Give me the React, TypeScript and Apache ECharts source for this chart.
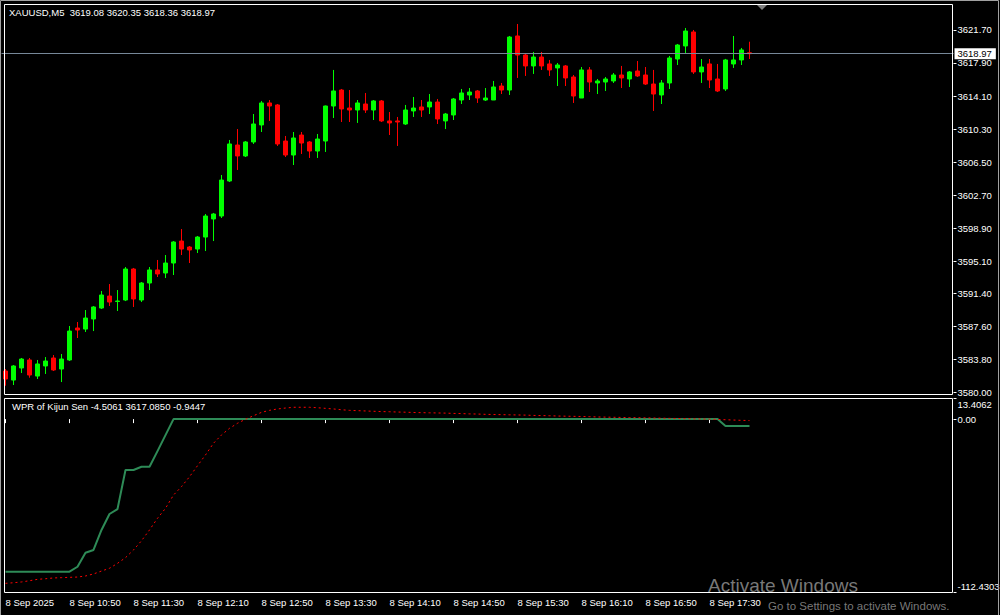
import React, { useEffect, useRef } from "react";
import * as echarts from "echarts";

const FONT = "'Liberation Sans', Arial, sans-serif";

const symbolTitle = "XAUUSD,M5  3619.08 3620.35 3618.36 3618.97";
const indicatorTitle = "WPR of Kijun Sen -4.5061 3617.0850 -0.9447";

// M5 bars, 8 Sep 2025 10:10 ... 17:55
const opens = [
  3582.45, 3581.41, 3582.8, 3583.72, 3581.87, 3583.03, 3583.95, 3582.68, 3583.72, 3587.4,
  3587.28, 3588.44, 3589.7, 3591.08, 3590.45, 3590.62, 3594.19, 3590.62, 3592.58, 3594.08,
  3593.73, 3594.88, 3597.41, 3596.72, 3596.49, 3597.87, 3599.95, 3600.29, 3604.32, 3608.46,
  3607.2, 3608.81, 3610.77, 3613.3, 3613.07, 3608.92, 3607.31, 3609.61, 3608.81, 3607.77,
  3608.92, 3612.95, 3614.79, 3612.72, 3612.49, 3613.18, 3612.49, 3613.53, 3611.23, 3611.23,
  3610.88, 3612.38, 3612.84, 3612.84, 3613.41, 3611.23, 3611.92, 3613.64, 3614.22, 3614.68,
  3613.64, 3613.64, 3615.25, 3614.79, 3621.01, 3618.82, 3617.56, 3618.59, 3617.79, 3617.33,
  3617.56, 3616.29, 3613.87, 3617.1, 3615.6, 3615.71, 3615.83, 3616.52, 3616.06, 3616.98,
  3616.52, 3615.48, 3614.22, 3615.6, 3618.36, 3619.86, 3621.47, 3616.87, 3617.79, 3616.06,
  3614.91, 3617.79, 3618.25, 3619.08,
];
const highs = [
  3582.68, 3583.14, 3583.95, 3583.95, 3583.72, 3584.06, 3584.29, 3584.41, 3587.63, 3588.09,
  3589.47, 3589.93, 3591.66, 3592.46, 3591.77, 3594.42, 3594.31, 3592.69, 3594.42, 3595.23,
  3595.8, 3597.41, 3598.79, 3596.84, 3597.99, 3600.52, 3600.64, 3605.01, 3609.04, 3610.3,
  3608.92, 3612.03, 3613.53, 3613.64, 3613.18, 3609.5, 3609.96, 3609.96, 3608.92, 3609.73,
  3613.0, 3617.1, 3614.91, 3614.79, 3613.64, 3614.45, 3613.64, 3613.64, 3612.26, 3611.69,
  3613.07, 3613.99, 3613.64, 3614.33, 3613.76, 3612.15, 3613.87, 3614.91, 3615.02, 3614.79,
  3615.02, 3615.83, 3615.6, 3621.01, 3622.39, 3618.94, 3619.17, 3619.17, 3618.25, 3617.9,
  3617.67, 3616.52, 3617.44, 3617.44, 3616.06, 3616.29, 3616.75, 3617.56, 3616.98, 3618.13,
  3617.44, 3617.1, 3615.94, 3618.71, 3620.09, 3621.93, 3621.7, 3618.36, 3618.36, 3617.79,
  3618.37, 3621.01, 3619.63, 3620.35,
];
const lows = [
  3580.76, 3580.84, 3582.22, 3581.68, 3581.53, 3582.11, 3582.45, 3581.18, 3583.6, 3586.25,
  3586.94, 3587.05, 3589.59, 3589.93, 3589.36, 3590.5, 3589.82, 3590.39, 3591.77, 3593.27,
  3593.15, 3593.5, 3595.8, 3594.88, 3596.03, 3596.26, 3597.41, 3600.06, 3604.2, 3605.59,
  3607.08, 3608.58, 3609.96, 3611.23, 3608.35, 3607.08, 3606.16, 3607.43, 3606.97, 3606.97,
  3607.66, 3611.57, 3611.11, 3611.11, 3611.0, 3612.15, 3611.34, 3611.11, 3609.61, 3608.35,
  3610.77, 3611.69, 3611.69, 3612.03, 3610.88, 3610.3, 3611.34, 3613.18, 3613.64, 3613.3,
  3613.53, 3613.64, 3614.33, 3614.22, 3616.18, 3616.41, 3616.64, 3617.1, 3616.41, 3615.25,
  3615.25, 3613.3, 3613.87, 3614.56, 3614.33, 3614.68, 3615.6, 3615.02, 3615.14, 3616.29,
  3615.37, 3612.38, 3613.18, 3614.91, 3617.67, 3619.05, 3616.64, 3615.6, 3615.02, 3614.56,
  3614.68, 3617.33, 3617.67, 3618.36,
];
const closes = [
  3581.53, 3583.03, 3583.83, 3581.99, 3583.26, 3583.6, 3582.57, 3583.83, 3587.05, 3587.17,
  3588.55, 3589.82, 3591.2, 3590.39, 3590.51, 3594.19, 3590.74, 3592.58, 3594.08, 3593.62,
  3594.88, 3597.3, 3596.49, 3596.38, 3597.87, 3600.29, 3600.52, 3604.43, 3608.58, 3607.2,
  3608.81, 3610.88, 3613.3, 3612.95, 3608.58, 3607.31, 3609.27, 3608.69, 3607.77, 3609.15,
  3612.95, 3614.68, 3612.61, 3612.49, 3613.3, 3612.49, 3613.53, 3611.23, 3611.0, 3611.11,
  3612.49, 3612.72, 3612.49, 3613.41, 3611.46, 3612.03, 3613.76, 3614.45, 3614.56, 3613.87,
  3613.87, 3615.14, 3614.79, 3620.89, 3618.82, 3617.56, 3618.59, 3617.56, 3617.1, 3617.67,
  3616.18, 3614.1, 3617.1, 3615.71, 3615.83, 3616.06, 3616.52, 3616.18, 3616.87, 3616.41,
  3615.48, 3614.33, 3615.6, 3618.48, 3619.97, 3621.58, 3616.87, 3617.44, 3615.94, 3614.68,
  3618.25, 3618.25, 3619.4, 3618.97,
];

// Indicator window: WPR of Kijun Sen (solid) and its signal (dotted)
const wprKijun = [
  -99.2, -99.2, -99.2, -99.2, -99.2, -99.2, -99.2, -99.2, -99.2, -96.0,
  -86.9, -85.1, -72.1, -61.7, -58.5, -33.1, -33.1, -31.0, -31.0, -20.8,
  -10.4, 0, 0, 0, 0, 0, 0, 0, 0, 0,
  0, 0, 0, 0, 0, 0, 0, 0, 0, 0,
  0, 0, 0, 0, 0, 0, 0, 0, 0, 0,
  0, 0, 0, 0, 0, 0, 0, 0, 0, 0,
  0, 0, 0, 0, 0, 0, 0, 0, 0, 0,
  0, 0, 0, 0, 0, 0, 0, 0, 0, 0,
  0, 0, 0, 0, 0, 0, 0, 0, 0, 0,
  -4.5061, -4.5061, -4.5061, -4.5061,
];
const wprSignal = [
  -106.8, -106.4, -105.9, -105.1, -104.2, -103.8, -103.3, -103.1, -102.9, -102.7,
  -102.0, -100.7, -98.8, -97.0, -93.8, -90.1, -85.1, -79.1, -72.1, -64.5,
  -58.0, -49.4, -43.9, -37.5, -30.3, -23.3, -15.7, -10.3, -6.0, -2.7,
  -0.1, 2.2, 4.4, 5.7, 6.6, 7.2, 7.7, 7.7, 7.7, 7.4,
  7.0, 6.6, 6.1, 5.7, 5.5, 5.3, 5.1, 4.9, 4.8, 4.6,
  4.5, 4.3, 4.2, 4.1, 4.0, 3.9, 3.7, 3.6, 3.4, 3.3,
  3.1, 3.0, 2.9, 2.8, 2.7, 2.6, 2.4, 2.3, 2.2, 2.0,
  1.9, 1.8, 1.7, 1.6, 1.4, 1.3, 1.2, 1.1, 1.0, 0.9,
  0.8, 0.7, 0.6, 0.5, 0.4, 0.3, 0.2, 0.1, 0.0, -0.2,
  -0.4, -0.6, -0.8, -0.94,
];

const priceTicks = [
  3580.0, 3583.8, 3587.6, 3591.4, 3595.1, 3598.9, 3602.7, 3606.5, 3610.3, 3614.1, 3617.9, 3621.7,
];
const wprTicks = [13.4062, 0, -112.4303];
const xTickLabels = [
  "8 Sep 2025", "8 Sep 10:50", "8 Sep 11:30", "8 Sep 12:10", "8 Sep 12:50", "8 Sep 13:30",
  "8 Sep 14:10", "8 Sep 14:50", "8 Sep 15:30", "8 Sep 16:10", "8 Sep 16:50", "8 Sep 17:30",
];
const BARS_PER_LABEL = 8;
const TOTAL_SLOTS = 119; // bars + empty chart-shift space

const PRICE_MIN = 3579.69;
const PRICE_MAX = 3624.69;
const WPR_MIN = -112.4303;
const WPR_MAX = 13.4062;

function buildOption() {
  const cats = Array.from({ length: TOTAL_SLOTS }, (_, i) => String(i));
  const candleData = opens.map((o, i) => [o, closes[i], lows[i], highs[i]]);
  const lastClose = closes[closes.length - 1];
  const showX = (idx: number) =>
    idx % BARS_PER_LABEL === 0 && idx / BARS_PER_LABEL < xTickLabels.length;

  const white = "#ffffff";
  const fs = 9.5;
  const wm = "rgba(160,160,160,0.75)";

  return {
    animation: false,
    backgroundColor: "#000000",
    textStyle: { fontFamily: FONT },
    grid: [
      { left: 1.5, top: 4, width: 952, height: 391, outerBoundsMode: "none" },
      { left: 1.5, top: 398.5, width: 952, height: 193.5, outerBoundsMode: "none" },
    ],
    xAxis: [
      { type: "category", gridIndex: 0, data: cats, boundaryGap: true, show: false },
      {
        type: "category",
        gridIndex: 1,
        data: cats,
        boundaryGap: true,
        axisLine: { show: false },
        splitLine: { show: false },
        axisTick: {
          show: true,
          alignWithLabel: true,
          interval: (idx: number) => showX(idx),
          length: 4,
          lineStyle: { color: white, width: 1 },
        },
        axisLabel: {
          interval: (idx: number) => showX(idx),
          formatter: (v: string) => {
            const i = Number(v);
            return showX(i) ? xTickLabels[i / BARS_PER_LABEL] : "";
          },
          color: white,
          fontSize: fs,
          fontFamily: FONT,
          align: "left",
          margin: 5,
        },
      },
    ],
    yAxis: [
      {
        type: "value",
        gridIndex: 0,
        position: "right",
        min: PRICE_MIN,
        max: PRICE_MAX,
        axisLine: { show: false },
        splitLine: { show: false },
        axisTick: {
          show: true,
          customValues: priceTicks,
          length: 3,
          lineStyle: { color: white },
        },
        axisLabel: {
          customValues: priceTicks,
          formatter: (v: number) => v.toFixed(2),
          color: white,
          fontSize: fs,
          fontFamily: FONT,
          margin: 4,
        },
      },
      {
        type: "value",
        gridIndex: 1,
        position: "right",
        min: WPR_MIN,
        max: WPR_MAX,
        axisLine: { show: false },
        splitLine: { show: false },
        axisTick: {
          show: true,
          customValues: wprTicks,
          length: 3,
          lineStyle: { color: white },
        },
        axisLabel: {
          customValues: wprTicks,
          formatter: (v: number) => {
            if (v > 10) return `{top|${v.toFixed(4)}}`;
            if (v < -100) return `{bot|${v.toFixed(4)}}`;
            return `{mid|${v.toFixed(2)}}`;
          },
          color: white,
          fontSize: fs,
          fontFamily: FONT,
          margin: 4,
          rich: {
            top: { color: white, fontSize: fs, fontFamily: FONT, padding: [11, 0, 0, 0] },
            mid: { color: white, fontSize: fs, fontFamily: FONT },
            bot: { color: white, fontSize: fs, fontFamily: FONT, padding: [0, 0, 11, 0] },
          },
        },
      },
    ],
    series: [
      {
        type: "candlestick",
        xAxisIndex: 0,
        yAxisIndex: 0,
        data: candleData,
        barWidth: 4,
        itemStyle: {
          color: "#00ff00",
          color0: "#ff0000",
          borderColor: "#00ff00",
          borderColor0: "#ff0000",
          borderWidth: 1,
        },
        markLine: {
          silent: true,
          symbol: ["none", "none"],
          lineStyle: { color: "#778899", width: 1, type: "solid" },
          label: {
            position: "end",
            distance: 1,
            formatter: () => lastClose.toFixed(2),
            color: "#000000",
            backgroundColor: "#ffffff",
            padding: [1, 4, 0, 3],
            fontSize: fs,
            fontFamily: FONT,
          },
          data: [{ yAxis: lastClose }],
        },
      },
      {
        type: "line",
        xAxisIndex: 1,
        yAxisIndex: 1,
        data: wprKijun,
        showSymbol: false,
        symbol: "none",
        lineStyle: { color: "#2e8b57", width: 2 },
        z: 3,
      },
      {
        type: "line",
        xAxisIndex: 1,
        yAxisIndex: 1,
        data: wprSignal,
        showSymbol: false,
        symbol: "none",
        lineStyle: { color: "#ff0000", width: 1, type: [2, 3] },
        z: 4,
      },
    ],
    graphic: [
      {
        type: "rect",
        silent: true,
        z: 100,
        shape: { x: 0.5, y: 0.5, width: 998, height: 620 },
        style: { fill: "none", stroke: "#a0a0a0", lineWidth: 1 },
      },
      {
        type: "rect",
        silent: true,
        z: 100,
        shape: { x: 4.5, y: 4.5, width: 948, height: 390 },
        style: { fill: "none", stroke: "#ffffff", lineWidth: 1 },
      },
      {
        type: "rect",
        silent: true,
        z: 100,
        shape: { x: 4.5, y: 398.5, width: 948, height: 194 },
        style: { fill: "none", stroke: "#ffffff", lineWidth: 1 },
      },
      {
        type: "polygon",
        silent: true,
        z: 101,
        shape: { points: [[757, 5], [767, 5], [762, 10]] },
        style: { fill: "#808080" },
      },
      {
        type: "text",
        silent: true,
        z: 101,
        x: 9,
        y: 7,
        style: {
          text: symbolTitle,
          fill: white,
          fontSize: fs,
          fontFamily: FONT,
          verticalAlign: "top",
          align: "left",
        },
      },
      {
        type: "text",
        silent: true,
        z: 101,
        x: 12,
        y: 401.5,
        style: {
          text: indicatorTitle,
          fill: white,
          fontSize: fs,
          fontFamily: FONT,
          verticalAlign: "top",
          align: "left",
        },
      },
      {
        type: "text",
        silent: true,
        z: 102,
        x: 708,
        y: 576,
        style: {
          text: "Activate Windows",
          fill: wm,
          fontSize: 19,
          fontFamily: FONT,
          verticalAlign: "top",
          align: "left",
        },
      },
      {
        type: "text",
        silent: true,
        z: 102,
        x: 768,
        y: 600,
        style: {
          text: "Go to Settings to activate Windows.",
          fill: wm,
          fontSize: 11.5,
          fontFamily: FONT,
          verticalAlign: "top",
          align: "left",
        },
      },
    ],
  };
}

export default function App() {
  const ref = useRef<HTMLDivElement>(null);
  useEffect(() => {
    if (!ref.current) return;
    const chart = echarts.init(ref.current, null, { renderer: "svg" });
    chart.setOption(buildOption() as any);
    return () => {
      chart.dispose();
    };
  }, []);
  return (
    <div
      ref={ref}
      style={{
        position: "fixed",
        left: 0,
        top: 0,
        width: 1000,
        height: 615,
        background: "#000000",
      }}
    />
  );
}
